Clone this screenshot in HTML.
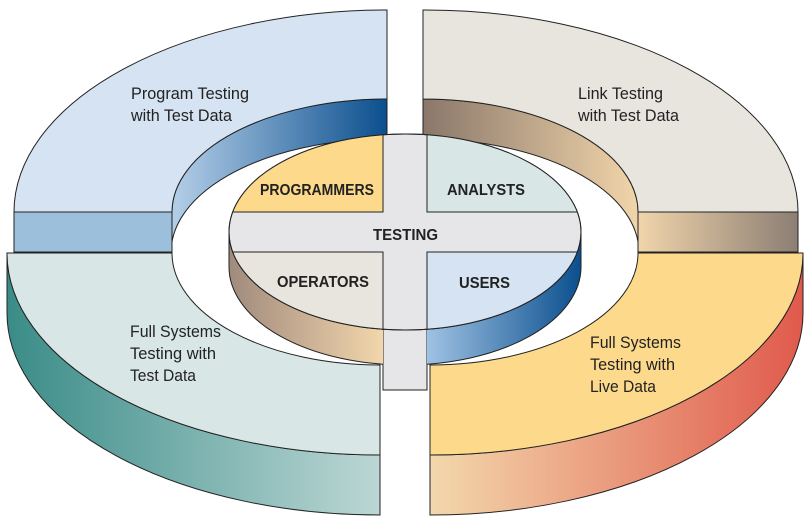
<!DOCTYPE html>
<html><head><meta charset="utf-8"><style>html,body{margin:0;padding:0;background:#fff}svg{display:block}</style></head>
<body>
<svg width="809" height="525" viewBox="0 0 809 525" xmlns="http://www.w3.org/2000/svg" font-family="Liberation Sans, sans-serif">
<defs>
<linearGradient id="gTLw" x1="172" y1="0" x2="387" y2="0" gradientUnits="userSpaceOnUse"><stop offset="0" stop-color="#b4cfe8"/><stop offset="1" stop-color="#0b4f8e"/></linearGradient>
<linearGradient id="gTRw" x1="423" y1="0" x2="638" y2="0" gradientUnits="userSpaceOnUse"><stop offset="0" stop-color="#8a776a"/><stop offset="1" stop-color="#f1d5aa"/></linearGradient>
<linearGradient id="gTRf" x1="638" y1="0" x2="798" y2="0" gradientUnits="userSpaceOnUse"><stop offset="0" stop-color="#f1d5ab"/><stop offset="1" stop-color="#8c7e74"/></linearGradient>
<linearGradient id="gBL" x1="7" y1="0" x2="380" y2="0" gradientUnits="userSpaceOnUse"><stop offset="0" stop-color="#3a8c88"/><stop offset="1" stop-color="#bcd7d5"/></linearGradient>
<linearGradient id="gBR" x1="430" y1="0" x2="803" y2="0" gradientUnits="userSpaceOnUse"><stop offset="0" stop-color="#f3d8ac"/><stop offset="1" stop-color="#e05a4c"/></linearGradient>
<linearGradient id="gOp" x1="229" y1="0" x2="383" y2="0" gradientUnits="userSpaceOnUse"><stop offset="0" stop-color="#a08a7c"/><stop offset="1" stop-color="#f2d6ac"/></linearGradient>
<linearGradient id="gUs" x1="427" y1="0" x2="581" y2="0" gradientUnits="userSpaceOnUse"><stop offset="0" stop-color="#9fc2e3"/><stop offset="1" stop-color="#0b4f8e"/></linearGradient>
<clipPath id="cL"><rect x="0" y="0" width="383" height="525"/></clipPath>
<clipPath id="cR"><rect x="427" y="0" width="400" height="525"/></clipPath>
<clipPath id="cE"><ellipse cx="405" cy="232" rx="176" ry="98"/></clipPath>
</defs>
<g stroke="#222" stroke-width="1">
<path d="M387,99 A215,113 0 0 0 172,212 L172,262 A215,113 0 0 1 387,139 Z" fill="url(#gTLw)"/>
<rect x="14" y="212" width="158" height="40" fill="#9cbfdc"/>
<path d="M387,10 A373,202 0 0 0 14,212 L172,212 A215,113 0 0 1 387,99 Z" fill="#d6e3f2"/>
<path d="M423,99 A215,113 0 0 1 638,212 L638,262 A215,113 0 0 0 423,139 Z" fill="url(#gTRw)"/>
<rect x="638" y="212" width="160" height="40" fill="url(#gTRf)"/>
<path d="M423,10 A373,202 0 0 1 798,212 L638,212 A215,113 0 0 0 423,99 Z" fill="#e8e5df"/>
<rect x="383" y="300" width="44" height="90" fill="#e6e6e8"/>
<path clip-path="url(#cL)" d="M229,232 L229,267 A176,98 0 0 0 581,267 L581,232 A176,98 0 0 1 229,232 Z" fill="url(#gOp)"/>
<path clip-path="url(#cR)" d="M229,232 L229,267 A176,98 0 0 0 581,267 L581,232 A176,98 0 0 1 229,232 Z" fill="url(#gUs)"/>
<ellipse cx="405" cy="232" rx="176" ry="98" fill="#e6e6e8"/>
<g clip-path="url(#cE)">
<rect x="200" y="120" width="183" height="92" fill="#fdd98b"/>
<rect x="427" y="120" width="183" height="92" fill="#d8e6e6"/>
<rect x="200" y="252" width="183" height="90" fill="#e8e4de"/>
<rect x="427" y="252" width="183" height="90" fill="#d6e3f2"/>
</g>
<ellipse cx="405" cy="232" rx="176" ry="98" fill="none"/>
<path d="M7,253 A373,202 0 0 0 380,455 L380,515 A373,202 0 0 1 7,313 Z" fill="url(#gBL)"/>
<path d="M7,253 L172,253 A208,112 0 0 0 380,365 L380,455 A373,202 0 0 1 7,253 Z" fill="#d8e6e6"/>
<path d="M803,253 A373,202 0 0 1 430,455 L430,515 A373,202 0 0 0 803,313 Z" fill="url(#gBR)"/>
<path d="M803,253 L638,253 A208,112 0 0 1 430,365 L430,455 A373,202 0 0 0 803,253 Z" fill="#fdd98b"/>
</g>
<g fill="#222" font-size="17">
<text x="131" y="99" textLength="118" lengthAdjust="spacingAndGlyphs">Program Testing</text>
<text x="131" y="121" textLength="101" lengthAdjust="spacingAndGlyphs">with Test Data</text>
<text x="578" y="99" textLength="85" lengthAdjust="spacingAndGlyphs">Link Testing</text>
<text x="578" y="121" textLength="101" lengthAdjust="spacingAndGlyphs">with Test Data</text>
<text x="130" y="337" textLength="91" lengthAdjust="spacingAndGlyphs">Full Systems</text>
<text x="130" y="359" textLength="86" lengthAdjust="spacingAndGlyphs">Testing with</text>
<text x="130" y="381" textLength="66" lengthAdjust="spacingAndGlyphs">Test Data</text>
<text x="590" y="348" textLength="91" lengthAdjust="spacingAndGlyphs">Full Systems</text>
<text x="590" y="370" textLength="85" lengthAdjust="spacingAndGlyphs">Testing with</text>
<text x="590" y="392" textLength="66" lengthAdjust="spacingAndGlyphs">Live Data</text>
</g>
<g fill="#222" font-size="16" font-weight="bold">
<text x="260" y="195" textLength="114" lengthAdjust="spacingAndGlyphs">PROGRAMMERS</text>
<text x="447" y="195" textLength="78" lengthAdjust="spacingAndGlyphs">ANALYSTS</text>
<text x="373" y="240" textLength="65" lengthAdjust="spacingAndGlyphs">TESTING</text>
<text x="277" y="287" textLength="92" lengthAdjust="spacingAndGlyphs">OPERATORS</text>
<text x="459" y="288" textLength="51" lengthAdjust="spacingAndGlyphs">USERS</text>
</g>
</svg>
</body></html>
